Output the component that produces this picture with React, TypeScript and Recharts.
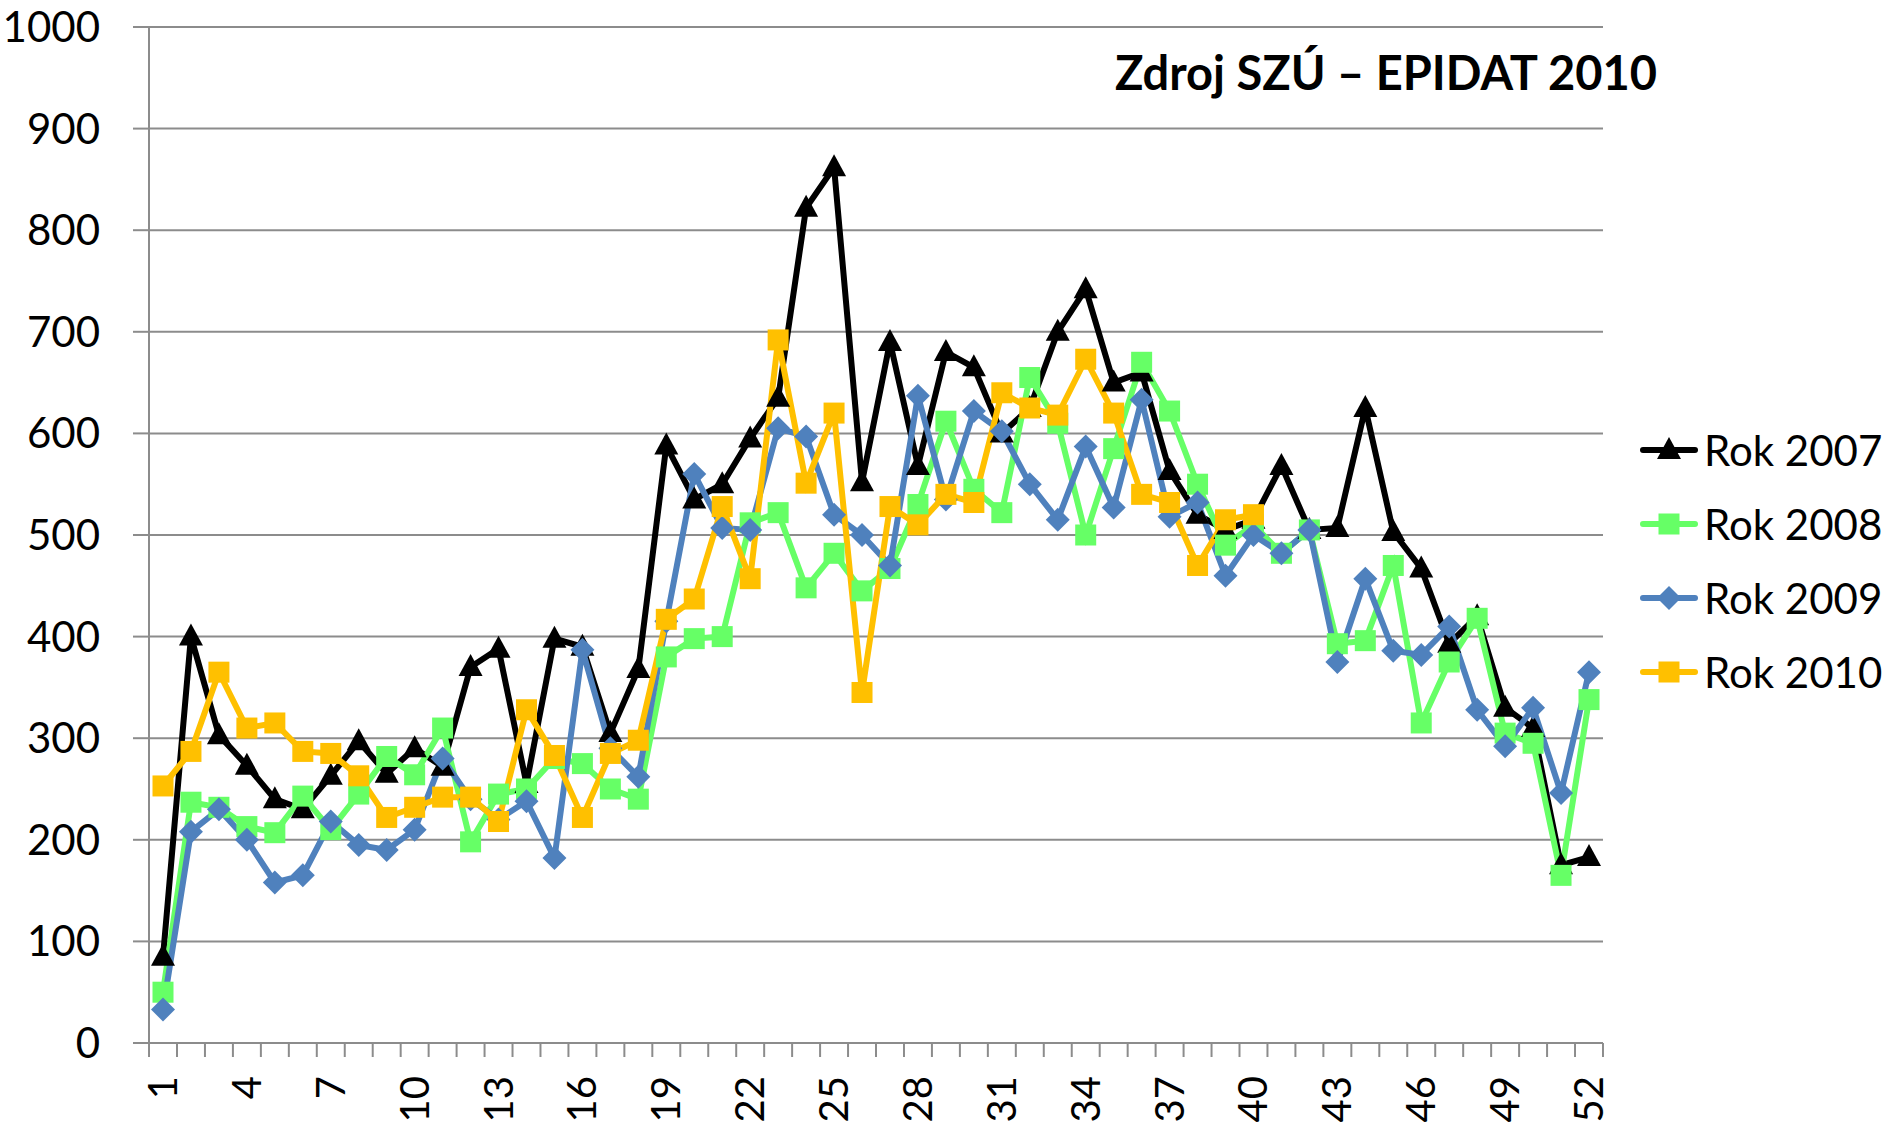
import React from "react";
import { LineChart, Line, XAxis, YAxis, CartesianGrid, Legend } from "recharts";

const weeks = [
  "1", "2", "3", "4", "5", "6", "7", "8", "9", "10", "11", "12", "13",
  "14", "15", "16", "17", "18", "19", "20", "21", "22", "23", "24", "25", "26",
  "27", "28", "29", "30", "31", "32", "33", "34", "35", "36", "37", "38", "39",
  "40", "41", "42", "43", "44", "45", "46", "47", "48", "49", "50", "51", "52",
];

const rok2007 = [
  85, 400, 303, 273, 240, 230, 263, 297, 265, 290, 272, 370, 388,
  255, 398, 390, 305, 368, 588, 535, 550, 595, 635, 822, 862, 552,
  690, 568, 680, 665, 600, 625, 700, 742, 650, 660, 563, 520, 505,
  515, 568, 505, 507, 625, 503, 467, 393, 420, 330, 310, 175, 183,
];

const rok2008 = [
  50, 237, 232, 213, 207, 243, 210, 245, 282, 264, 310, 198, 245,
  250, 280, 275, 250, 240, 380, 398, 400, 512, 522, 448, 482, 445,
  467, 530, 612, 545, 522, 655, 610, 500, 585, 670, 622, 550, 490,
  510, 482, 505, 393, 396, 470, 315, 375, 418, 305, 295, 165, 338,
];

const rok2009 = [
  33, 208, 230, 200, 158, 165, 218, 195, 190, 210, 280, 240, 220,
  238, 182, 387, 290, 262, 415, 560, 507, 505, 605, 597, 520, 500,
  470, 637, 535, 622, 602, 550, 515, 587, 527, 633, 518, 532, 460,
  500, 482, 505, 375, 457, 386, 382, 410, 328, 292, 330, 246, 365,
];

const rok2010 = [
  253, 287, 365, 310, 315, 287, 285, 263, 222, 232, 242, 242, 218,
  328, 283, 222, 285, 298, 417, 437, 528, 457, 692, 551, 620, 345,
  528, 510, 540, 532, 640, 625, 618, 673, 620, 540, 532, 470, 515,
  520,
];

const yTicks = [0, 100, 200, 300, 400, 500, 600, 700, 800, 900, 1000];

type Shape = "triangle" | "square" | "diamond";

const SERIES: { key: string; name: string; color: string; shape: Shape }[] = [
  { key: "r2007", name: "Rok 2007", color: "#000000", shape: "triangle" },
  { key: "r2008", name: "Rok 2008", color: "#66ff66", shape: "square" },
  { key: "r2009", name: "Rok 2009", color: "#4f81bd", shape: "diamond" },
  { key: "r2010", name: "Rok 2010", color: "#ffc000", shape: "square" },
];

const data = weeks.map((w, i) => ({
  week: w,
  r2007: rok2007[i],
  r2008: rok2008[i],
  r2009: rok2009[i],
  r2010: i < rok2010.length ? rok2010[i] : null,
}));

const FONT = "Lato, 'Open Sans', sans-serif";
const GRID = "#8c8c8c";
const STEP = 27.94;
const LEGEND_W = 247;

function Marker({ shape, cx, cy, color }: { shape: Shape; cx: number; cy: number; color: string }) {
  if (shape === "triangle") {
    return (
      <polygon
        points={`${cx},${cy - 13} ${cx + 12},${cy + 9} ${cx - 12},${cy + 9}`}
        fill={color}
      />
    );
  }
  if (shape === "diamond") {
    return (
      <polygon
        points={`${cx},${cy - 12} ${cx + 12},${cy} ${cx},${cy + 12} ${cx - 12},${cy}`}
        fill={color}
      />
    );
  }
  return <rect x={cx - 10.5} y={cy - 10.5} width={21} height={21} fill={color} />;
}

const makeDot = (shape: Shape, color: string) => (props: any) => {
  const { cx, cy, index, value } = props;
  if (cx == null || cy == null || value == null) return <g key={`d-${index}`} />;
  return (
    <g key={`d-${index}`}>
      <Marker shape={shape} cx={cx} cy={cy} color={color} />
    </g>
  );
};

function WeekTick(props: any) {
  const { x, y, payload, index } = props;
  const half = STEP / 2;
  const isLast = index === weeks.length - 1;
  return (
    <g>
      <line x1={x - half} x2={x - half} y1={y} y2={y + 14} stroke={GRID} strokeWidth={2} />
      {isLast && (
        <line x1={x + half} x2={x + half} y1={y} y2={y + 14} stroke={GRID} strokeWidth={2} />
      )}
      {index % 3 === 0 && (
        <text
          x={0}
          y={0}
          transform={`translate(${x + 14},${y + 33}) rotate(-90)`}
          textAnchor="end"
          fontSize={40}
          fontFamily={FONT}
          fill="#000"
        >
          {payload.value}
        </text>
      )}
    </g>
  );
}

function SeriesLegend() {
  return (
    <div style={{ fontFamily: FONT, fontSize: 42, color: "#000" }}>
      {SERIES.map((s) => (
        <div key={s.key} style={{ display: "flex", alignItems: "center", height: 74 }}>
          <svg width={58} height={30} style={{ marginRight: 6 }}>
            <line x1={3} x2={55} y1={15} y2={15} stroke={s.color} strokeWidth={6} strokeLinecap="round" />
            <Marker shape={s.shape} cx={29} cy={15} color={s.color} />
          </svg>
          <span>{s.name}</span>
        </div>
      ))}
    </div>
  );
}

export default function App() {
  return (
    <div style={{ position: "absolute", left: 0, top: 0, width: 1887, height: 1122, background: "#fff" }}>
      {/* the vertical legend reserves its own width on the right, so the margin only holds the rest */}
      <LineChart
        width={1887}
        height={1122}
        data={data}
        margin={{ top: 27, right: 284 - LEGEND_W, left: 0, bottom: 0 }}
      >
        <CartesianGrid vertical={false} stroke={GRID} strokeWidth={2} />
        <XAxis
          dataKey="week"
          interval={0}
          height={79}
          padding={{ left: 14, right: 14 }}
          tickLine={false}
          tickSize={0}
          tickMargin={0}
          axisLine={{ stroke: GRID, strokeWidth: 2 }}
          tick={<WeekTick />}
        />
        <YAxis
          width={149}
          domain={[0, 1000]}
          ticks={yTicks}
          interval={0}
          tickSize={16}
          tickMargin={33}
          axisLine={{ stroke: GRID, strokeWidth: 2 }}
          tickLine={{ stroke: GRID, strokeWidth: 2 }}
          tick={{ fontSize: 42, fill: "#000", fontFamily: FONT }}
        />
        <Legend
          layout="vertical"
          verticalAlign="top"
          align="right"
          content={<SeriesLegend />}
          wrapperStyle={{ left: 1640, top: 413, width: LEGEND_W }}
        />
        {SERIES.map((s) => (
          <Line
            key={s.key}
            dataKey={s.key}
            name={s.name}
            stroke={s.color}
            strokeWidth={6}
            type="linear"
            dot={makeDot(s.shape, s.color)}
            activeDot={false}
            isAnimationActive={false}
          />
        ))}
      </LineChart>
      <div
        style={{
          position: "absolute",
          right: 230,
          top: 44,
          fontFamily: FONT,
          fontWeight: 700,
          fontSize: 47,
          lineHeight: "56px",
          color: "#000",
          whiteSpace: "nowrap",
        }}
      >
        Zdroj SZÚ – EPIDAT 2010
      </div>
    </div>
  );
}
